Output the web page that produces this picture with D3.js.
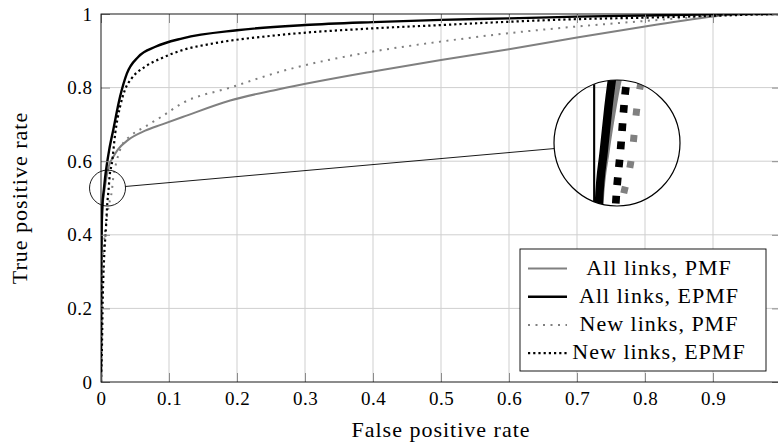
<!DOCTYPE html>
<html lang="en">
<head>
<meta charset="UTF-8">
<title>ROC curves</title>
<script src="https://d3js.org/d3.v7.min.js"></script>
<style>
  body { margin: 0; background: #fff; }
  svg { display: block; }
</style>
</head>
<body>
<script>
// ROC data (false positive rate, true positive rate)
var allPmfFpr  = [0, 0.0005, 0.001, 0.0025, 0.005, 0.0075, 0.01, 0.013, 0.016, 0.025, 0.04, 0.065, 0.09, 0.12, 0.19, 0.26, 0.4, 0.5, 0.6, 0.7, 0.8, 0.9, 0.93, 1];
var allPmfTpr  = [0, 0.25, 0.38, 0.48, 0.52, 0.55, 0.575, 0.595, 0.605, 0.632, 0.658, 0.683, 0.70, 0.72, 0.765, 0.795, 0.844, 0.875, 0.904, 0.936, 0.966, 0.993, 1, 1];

var allEpmfFpr = [0, 0.0005, 0.001, 0.002, 0.004, 0.006, 0.0085, 0.012, 0.018, 0.028, 0.038, 0.055, 0.08, 0.12, 0.2, 0.3, 0.4, 0.5, 0.6, 0.7, 0.8, 0.9, 0.95, 1];
var allEpmfTpr = [0, 0.3, 0.42, 0.48, 0.52, 0.555, 0.59, 0.63, 0.685, 0.775, 0.838, 0.884, 0.911, 0.934, 0.956, 0.97, 0.978, 0.984, 0.988, 0.993, 0.996, 0.999, 1, 1];

var newPmfFpr  = [0, 0.0005, 0.001, 0.0025, 0.005, 0.008, 0.012, 0.016, 0.018, 0.021, 0.023, 0.03, 0.045, 0.065, 0.089, 0.12, 0.19, 0.263, 0.4, 0.5, 0.6, 0.7, 0.8, 0.9, 0.95, 1];
var newPmfTpr  = [0, 0.12, 0.2, 0.32, 0.39, 0.44, 0.484, 0.52, 0.555, 0.585, 0.6, 0.64, 0.671, 0.694, 0.721, 0.758, 0.80, 0.843, 0.898, 0.925, 0.948, 0.966, 0.981, 0.995, 1, 1];

var newEpmfFpr = [0, 0.0015, 0.0025, 0.0044, 0.0074, 0.0093, 0.011, 0.013, 0.016, 0.021, 0.028, 0.035, 0.045, 0.065, 0.089, 0.12, 0.165, 0.263, 0.4, 0.5, 0.6, 0.7, 0.8, 0.9, 0.95, 1];
var newEpmfTpr = [0, 0.106, 0.22, 0.33, 0.422, 0.486, 0.52, 0.565, 0.594, 0.677, 0.748, 0.793, 0.825, 0.857, 0.88, 0.902, 0.92, 0.943, 0.961, 0.970, 0.979, 0.986, 0.99, 0.995, 0.998, 1];

var seriesNames = ["All links, PMF", "All links, EPMF", "New links, PMF", "New links, EPMF"];

var xTicks = [0, 0.1, 0.2, 0.3, 0.4, 0.5, 0.6, 0.7, 0.8, 0.9];
var xTickLabels = ["0", "0.1", "0.2", "0.3", "0.4", "0.5", "0.6", "0.7", "0.8", "0.9"];
var yTicks = [0, 0.2, 0.4, 0.6, 0.8, 1];
var yTickLabels = ["0", "0.2", "0.4", "0.6", "0.8", "1"];

// magnified spot, in data units
var spyCenter = [0.0096, 0.527];

var w = 778;
var h = 447;
var serif = "Liberation Serif";

var x = d3.scaleLinear().domain([0, 1]).range([101, 781]);
var y = d3.scaleLinear().domain([0, 1]).range([382, 14]);

var series = [
    {name: seriesNames[0], fpr: allPmfFpr,  tpr: allPmfTpr,  color: "#808080", width: 2,   dash: null},
    {name: seriesNames[1], fpr: allEpmfFpr, tpr: allEpmfTpr, color: "#000",    width: 2.4, dash: null},
    {name: seriesNames[2], fpr: newPmfFpr,  tpr: newPmfTpr,  color: "#808080", width: 2,   dash: "2 5.5"},
    {name: seriesNames[3], fpr: newEpmfFpr, tpr: newEpmfTpr, color: "#000",    width: 2.2, dash: "2.2 3"}
];

var svg = d3.select("body").append("svg")
    .attr("width", w)
    .attr("height", h)
    .attr("font-family", serif);

var defs = svg.append("defs");
defs.append("clipPath").attr("id", "plotClip")
    .append("rect")
    .attr("x", x(0)).attr("y", y(1))
    .attr("width", x(1) - x(0)).attr("height", y(0) - y(1));

// grid
var grid = svg.append("g").attr("stroke", "#cfcfcf").attr("stroke-width", 1);
grid.selectAll(".gx").data(xTicks.slice(1)).enter().append("line")
    .attr("x1", function(d) { return x(d); })
    .attr("x2", function(d) { return x(d); })
    .attr("y1", y(0)).attr("y2", y(1));
grid.selectAll(".gy").data(yTicks.slice(1, -1)).enter().append("line")
    .attr("y1", function(d) { return y(d); })
    .attr("y2", function(d) { return y(d); })
    .attr("x1", x(0)).attr("x2", x(1));

var line = d3.line()
    .x(function(d) { return x(d[0]); })
    .y(function(d) { return y(d[1]); })
    .curve(d3.curveMonotoneX);

function drawCurves(g) {
    series.forEach(function(s) {
        g.append("path")
            .datum(d3.zip(s.fpr, s.tpr))
            .attr("d", line)
            .attr("fill", "none")
            .attr("stroke", s.color)
            .attr("stroke-width", s.width)
            .attr("stroke-dasharray", s.dash);
    });
}

drawCurves(svg.append("g").attr("clip-path", "url(#plotClip)"));

// axes: labels on bottom/left, inner ticks on all four sides
var axBottom = svg.append("g")
    .attr("transform", "translate(0," + y(0) + ")")
    .call(d3.axisBottom(x).tickValues(xTicks).tickSize(-9).tickPadding(9.5)
        .tickFormat(function(d, i) { return xTickLabels[i]; }));
var axLeft = svg.append("g")
    .attr("transform", "translate(" + x(0) + ",0)")
    .call(d3.axisLeft(y).tickValues(yTicks).tickSize(-9).tickPadding(8.5)
        .tickFormat(function(d, i) { return yTickLabels[i]; }));
var axTop = svg.append("g")
    .attr("transform", "translate(0," + y(1) + ")")
    .call(d3.axisTop(x).tickValues(xTicks).tickSize(-9).tickFormat(""));
var axRight = svg.append("g")
    .attr("transform", "translate(" + x(1) + ",0)")
    .call(d3.axisRight(y).tickValues(yTicks).tickSize(-9).tickFormat(""));

[axBottom, axLeft, axTop, axRight].forEach(function(a) {
    a.select(".domain").remove();
    a.attr("font-family", serif).attr("font-size", 19);
    a.selectAll(".tick line").attr("stroke", "#8c8c8c").attr("stroke-width", 1);
    a.selectAll(".tick text").attr("fill", "#000").attr("letter-spacing", 0.5);
});

svg.append("rect")
    .attr("x", x(0)).attr("y", y(1))
    .attr("width", x(1) - x(0)).attr("height", y(0) - y(1))
    .attr("fill", "none")
    .attr("stroke", "#000")
    .attr("stroke-width", 0.9);

// axis titles
svg.append("text")
    .attr("x", (x(0) + x(1)) / 2)
    .attr("y", 437)
    .attr("text-anchor", "middle")
    .attr("font-size", 22)
    .attr("letter-spacing", 1)
    .text("False positive rate");

svg.append("text")
    .attr("transform", "rotate(-90)")
    .attr("x", -(y(0) + y(1)) / 2)
    .attr("y", 27)
    .attr("text-anchor", "middle")
    .attr("font-size", 22)
    .attr("letter-spacing", 1)
    .text("True positive rate");

// spy: small circle, connecting line, magnified circle
var srcX = x(spyCenter[0]), srcY = y(spyCenter[1]);
var srcR = 18;
var mag = 3.5;
var dstX = 617, dstY = 143, dstR = srcR * mag;

var ang = Math.atan2(dstY - srcY, dstX - srcX);
svg.append("line")
    .attr("x1", srcX + srcR * Math.cos(ang))
    .attr("y1", srcY + srcR * Math.sin(ang))
    .attr("x2", dstX - dstR * Math.cos(ang))
    .attr("y2", dstY - dstR * Math.sin(ang))
    .attr("stroke", "#000")
    .attr("stroke-width", 0.9);

svg.append("circle")
    .attr("cx", srcX).attr("cy", srcY).attr("r", srcR)
    .attr("fill", "none").attr("stroke", "#000").attr("stroke-width", 0.9);

defs.append("clipPath").attr("id", "spyClip")
    .append("circle")
    .attr("cx", dstX).attr("cy", dstY).attr("r", dstR);

var spy = svg.append("g").attr("clip-path", "url(#spyClip)")
    .append("g")
    .attr("transform", "translate(" + dstX + "," + dstY + ") scale(" + mag + ") translate(" + (-srcX) + "," + (-srcY) + ")");
spy.append("line")
    .attr("x1", x(0)).attr("x2", x(0))
    .attr("y1", y(0)).attr("y2", y(1))
    .attr("stroke", "#000").attr("stroke-width", 0.6);
drawCurves(spy);

svg.append("circle")
    .attr("cx", dstX).attr("cy", dstY).attr("r", dstR)
    .attr("fill", "none").attr("stroke", "#000").attr("stroke-width", 1.2);

// legend
var legX = 520, legY = 249, legW = 246, legH = 122;
var legend = svg.append("g");
legend.append("rect")
    .attr("x", legX).attr("y", legY)
    .attr("width", legW).attr("height", legH)
    .attr("fill", "#fff")
    .attr("stroke", "#000")
    .attr("stroke-width", 0.9);

var rows = legend.selectAll(".row").data(series).enter().append("g")
    .attr("transform", function(d, i) { return "translate(0," + (legY + 19.5 + i * 28.2) + ")"; });
rows.append("line")
    .attr("x1", legX + 8).attr("x2", legX + 47)
    .attr("stroke", function(d) { return d.color; })
    .attr("stroke-width", function(d) { return d.width; })
    .attr("stroke-dasharray", function(d) { return d.dash; });
rows.append("text")
    .attr("x", 659)
    .attr("y", 6)
    .attr("text-anchor", "middle")
    .attr("font-size", 22)
    .attr("letter-spacing", 1)
    .text(function(d) { return d.name; });
</script>
</body>
</html>
